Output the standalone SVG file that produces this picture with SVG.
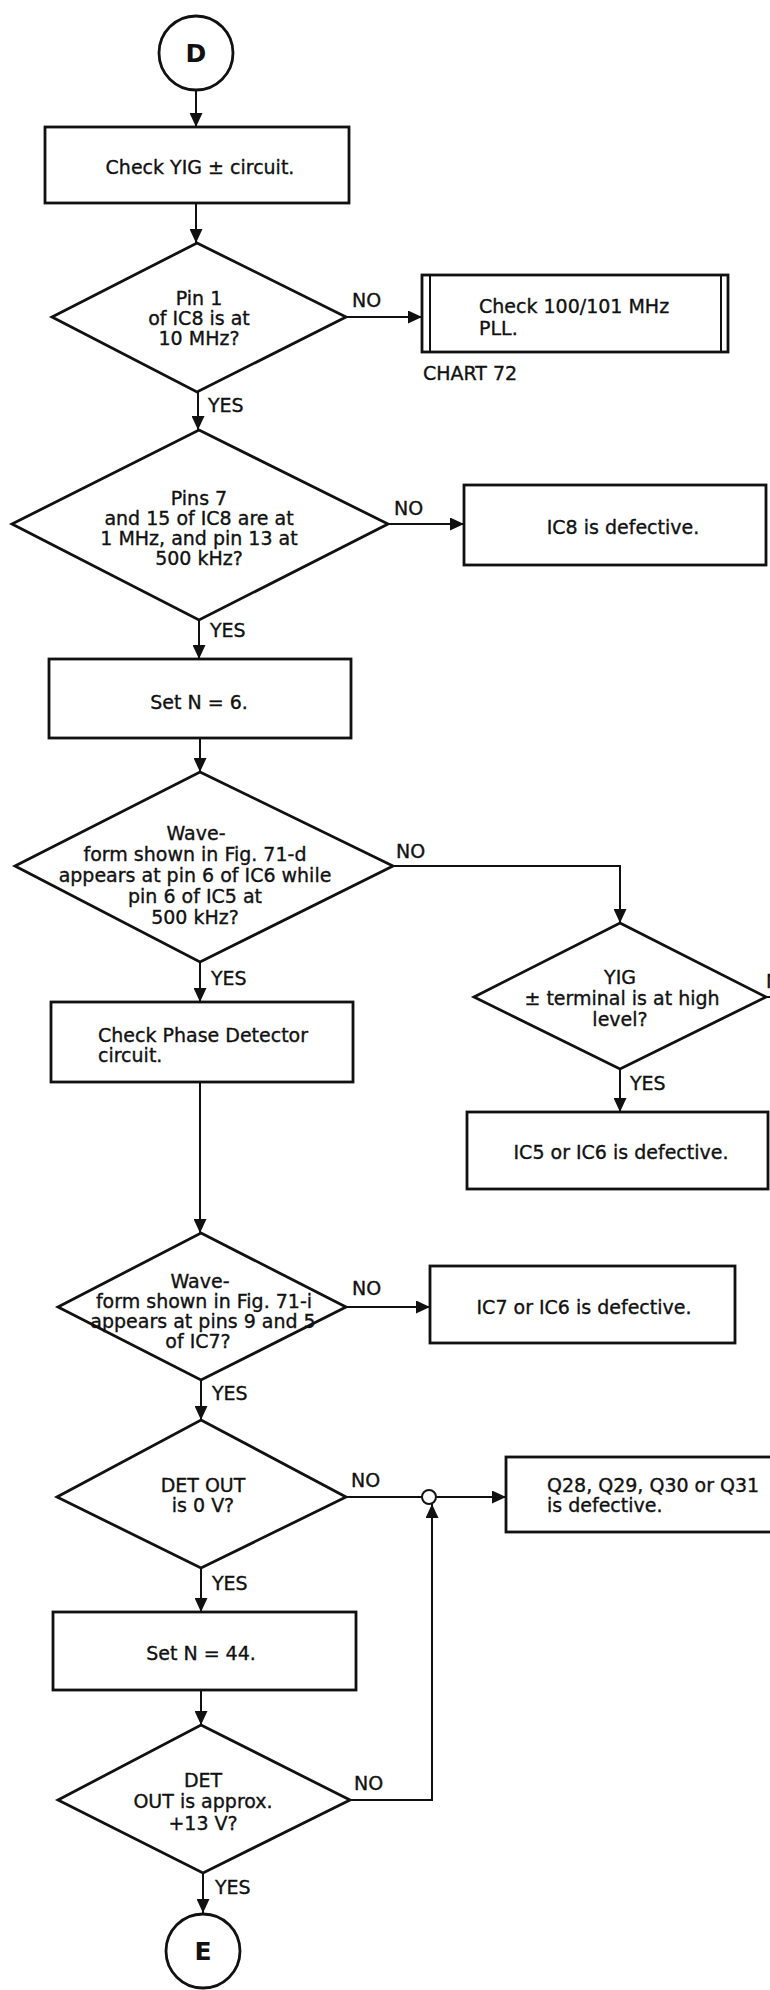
<svg xmlns="http://www.w3.org/2000/svg" width="770" height="1990" viewBox="0 0 770 1990">
  <style>
    .shape { fill: #fff; stroke: #111; stroke-width: 2.8; stroke-linejoin: miter; }
    .wire { fill: none; stroke: #111; stroke-width: 2; }
    .t { font-family: "DejaVu Sans", "Liberation Sans", sans-serif; font-size: 19px; fill: #111; stroke: #111; stroke-width: 0.35; }
    .c { text-anchor: middle; }
    .lbl { font-family: "DejaVu Sans", "Liberation Sans", sans-serif; font-size: 19px; fill: #111; stroke: #111; stroke-width: 0.35; }
    .conn { font-family: "DejaVu Sans", "Liberation Sans", sans-serif; font-size: 25px; font-weight: bold; fill: #111; text-anchor: middle; }
  </style>
  <defs>
    <marker id="ah" viewBox="0 0 14 13" refX="14" refY="6.5" markerWidth="14" markerHeight="13" markerUnits="userSpaceOnUse" orient="auto">
      <path d="M0,0 L14,6.5 L0,13 z" fill="#111"/>
    </marker>
  </defs>
  <rect x="0" y="0" width="770" height="1990" fill="#fff"/>

  <!-- flow lines -->
  <g id="connectors">
    <line class="wire" x1="196" y1="90" x2="196" y2="127" marker-end="url(#ah)"/>
    <line class="wire" x1="196" y1="203" x2="196" y2="243" marker-end="url(#ah)"/>
    <line class="wire" x1="346" y1="317" x2="422" y2="317" marker-end="url(#ah)"/>
    <line class="wire" x1="198" y1="392" x2="198" y2="430" marker-end="url(#ah)"/>
    <line class="wire" x1="388" y1="524" x2="464" y2="524" marker-end="url(#ah)"/>
    <line class="wire" x1="199" y1="620" x2="199" y2="659" marker-end="url(#ah)"/>
    <line class="wire" x1="200" y1="738" x2="200" y2="772" marker-end="url(#ah)"/>
    <polyline class="wire" points="393,866 620,866 620,923" marker-end="url(#ah)"/>
    <line class="wire" x1="766" y1="997" x2="780" y2="997"/>
    <line class="wire" x1="620" y1="1069" x2="620" y2="1112" marker-end="url(#ah)"/>
    <line class="wire" x1="200" y1="962" x2="200" y2="1002" marker-end="url(#ah)"/>
    <line class="wire" x1="200" y1="1082" x2="200" y2="1233" marker-end="url(#ah)"/>
    <line class="wire" x1="346" y1="1307" x2="430" y2="1307" marker-end="url(#ah)"/>
    <line class="wire" x1="201" y1="1380" x2="201" y2="1420" marker-end="url(#ah)"/>
    <line class="wire" x1="346" y1="1497" x2="422" y2="1497"/>
    <circle class="wire" cx="429" cy="1497" r="7" fill="#fff"/>
    <line class="wire" x1="436" y1="1497" x2="506" y2="1497" marker-end="url(#ah)"/>
    <polyline class="wire" points="350,1800 432,1800 432,1504" marker-end="url(#ah)"/>
    <line class="wire" x1="201" y1="1568" x2="201" y2="1612" marker-end="url(#ah)"/>
    <line class="wire" x1="201" y1="1690" x2="201" y2="1725" marker-end="url(#ah)"/>
    <line class="wire" x1="203" y1="1873" x2="203" y2="1913" marker-end="url(#ah)"/>
  </g>

  <!-- branch labels -->
  <g id="branch-labels">
    <text class="lbl" x="352" y="307">NO</text>
    <text class="lbl" x="208" y="412">YES</text>
    <text class="lbl" x="394" y="515">NO</text>
    <text class="lbl" x="210" y="637">YES</text>
    <text class="lbl" x="396" y="858">NO</text>
    <text class="lbl" x="211" y="985">YES</text>
    <text class="lbl" x="766" y="988">NO</text>
    <text class="lbl" x="630" y="1090">YES</text>
    <text class="lbl" x="352" y="1295">NO</text>
    <text class="lbl" x="212" y="1400">YES</text>
    <text class="lbl" x="351" y="1487">NO</text>
    <text class="lbl" x="212" y="1590">YES</text>
    <text class="lbl" x="354" y="1790">NO</text>
    <text class="lbl" x="215" y="1894">YES</text>
  </g>

  <g id="start-D">
    <circle class="shape" cx="196" cy="53" r="37"/>
    <text class="conn" x="196" y="62">D</text>
  </g>

  <g id="check-yig">
    <rect class="shape" x="45" y="127" width="304" height="76"/>
    <text class="t c" x="200" y="173.5">Check YIG ± circuit.</text>
  </g>

  <g id="pin1-ic8">
    <polygon class="shape" points="197,243 346,317 197,392 52,317"/>
    <text class="t c" x="199" y="304.5">Pin 1</text>
    <text class="t c" x="199" y="324.5">of IC8 is at</text>
    <text class="t c" x="199" y="344.5">10 MHz?</text>
  </g>

  <g id="check-pll">
    <rect class="shape" x="422" y="275" width="306" height="77"/>
    <line class="wire" x1="430" y1="275" x2="430" y2="352"/>
    <line class="wire" x1="721" y1="275" x2="721" y2="352"/>
    <text class="t" x="479" y="313">Check 100/101 MHz</text>
    <text class="t" x="479" y="335">PLL.</text>
    <text class="t" x="423" y="380">CHART 72</text>
  </g>

  <g id="pins-7-15">
    <polygon class="shape" points="199,430 388,524 199,620 12,524"/>
    <text class="t c" x="199" y="504.5">Pins 7</text>
    <text class="t c" x="199" y="524.5">and 15 of IC8 are at</text>
    <text class="t c" x="199" y="544.5">1 MHz, and pin 13 at</text>
    <text class="t c" x="199" y="564.5">500 kHz?</text>
  </g>

  <g id="ic8-defective">
    <rect class="shape" x="464" y="485" width="302" height="80"/>
    <text class="t c" x="623" y="533.5">IC8 is defective.</text>
  </g>

  <g id="set-n-6">
    <rect class="shape" x="49" y="659" width="302" height="79"/>
    <text class="t c" x="199" y="708.5">Set N = 6.</text>
  </g>

  <g id="waveform-71d">
    <polygon class="shape" points="200,772 393,866 200,962 15,866"/>
    <text class="t c" x="196" y="839.5">Wave-</text>
    <text class="t c" x="195" y="860.5">form shown in Fig. 71-d</text>
    <text class="t c" x="195" y="881.5">appears at pin 6 of IC6 while</text>
    <text class="t c" x="195" y="902.5">pin 6 of IC5 at</text>
    <text class="t c" x="195" y="923.5">500 kHz?</text>
  </g>

  <g id="yig-terminal">
    <polygon class="shape" points="620,923 766,997 620,1069 474,997"/>
    <text class="t c" x="620" y="983.5">YIG</text>
    <text class="t c" x="622" y="1004.5">± terminal is at high</text>
    <text class="t c" x="620" y="1025.5">level?</text>
  </g>

  <g id="ic5-ic6-defective">
    <rect class="shape" x="467" y="1112" width="301" height="77"/>
    <text class="t c" x="621" y="1158.5">IC5 or IC6 is defective.</text>
  </g>

  <g id="check-phase-detector">
    <rect class="shape" x="51" y="1002" width="302" height="80"/>
    <text class="t" x="98" y="1041.5">Check Phase Detector</text>
    <text class="t" x="98" y="1061.5">circuit.</text>
  </g>

  <g id="waveform-71i">
    <polygon class="shape" points="201,1233 346,1307 201,1380 58,1307"/>
    <text class="t c" x="200" y="1287.5">Wave-</text>
    <text class="t c" x="204" y="1307.5">form shown in Fig. 71-i</text>
    <text class="t c" x="203" y="1327.5">appears at pins 9 and 5</text>
    <text class="t c" x="198" y="1347.5">of IC7?</text>
  </g>

  <g id="ic7-ic6-defective">
    <rect class="shape" x="430" y="1266" width="305" height="77"/>
    <text class="t c" x="584" y="1313.5">IC7 or IC6 is defective.</text>
  </g>

  <g id="det-out-0v">
    <polygon class="shape" points="201,1420 346,1497 201,1568 57,1497"/>
    <text class="t c" x="203" y="1491.5">DET OUT</text>
    <text class="t c" x="203" y="1511.5">is 0 V?</text>
  </g>

  <g id="q28-q31-defective">
    <rect class="shape" x="506" y="1457" width="280" height="75"/>
    <text class="t" x="547" y="1491.5">Q28, Q29, Q30 or Q31</text>
    <text class="t" x="547" y="1511.5">is defective.</text>
  </g>

  <g id="set-n-44">
    <rect class="shape" x="53" y="1612" width="303" height="78"/>
    <text class="t c" x="201" y="1659.5">Set N = 44.</text>
  </g>

  <g id="det-out-13v">
    <polygon class="shape" points="201,1725 350,1800 203,1873 58,1800"/>
    <text class="t c" x="203" y="1786.5">DET</text>
    <text class="t c" x="203" y="1808">OUT is approx.</text>
    <text class="t c" x="203" y="1829.5">+13 V?</text>
  </g>

  <g id="end-E">
    <circle class="shape" cx="203" cy="1951" r="37"/>
    <text class="conn" x="203" y="1960">E</text>
  </g>
</svg>
